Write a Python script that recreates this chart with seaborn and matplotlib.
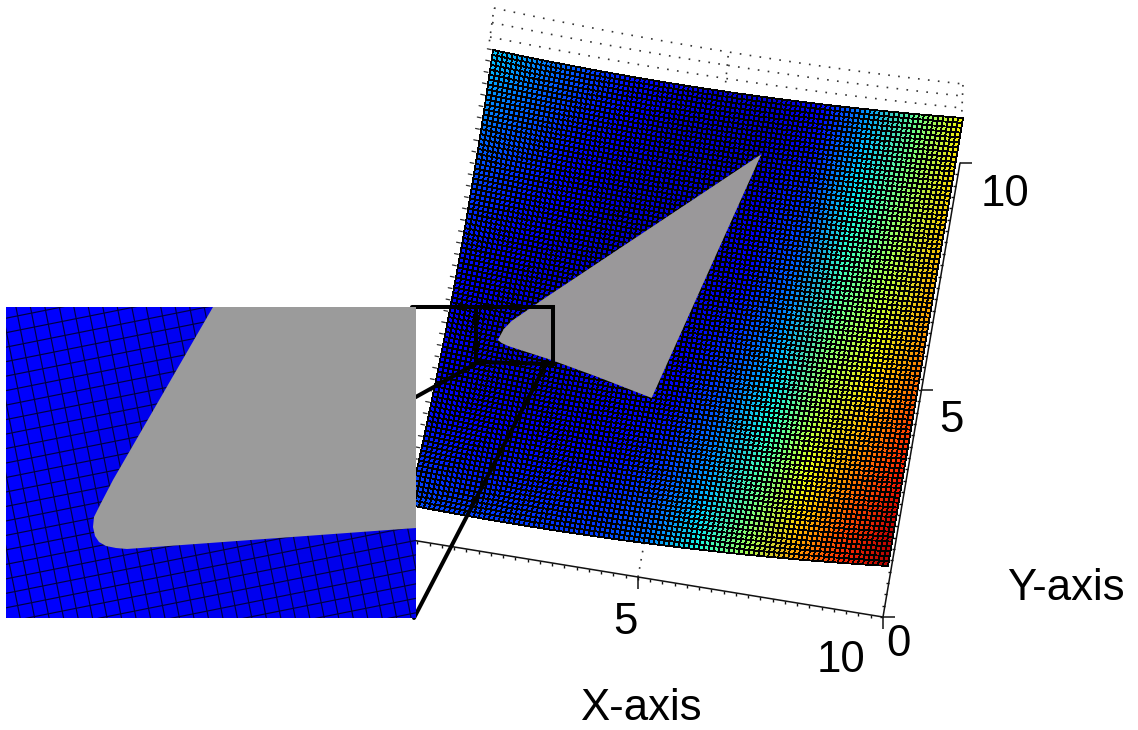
"""
Surface mesh seen from above, with a zoomed inset of the triangle's rounded corner.
"""

import numpy as np
import pandas as pd
import matplotlib
matplotlib.use("Agg")
import matplotlib.pyplot as plt
import seaborn as sns
from matplotlib.patches import Polygon
from matplotlib.transforms import Affine2D, Transform

sns.set_style("white")
plt.rcParams["font.family"] = ["Liberation Sans", "DejaVu Sans"]

# surface colour value (0-1 on the jet scale), one row per y = 0..10, one column per x = 0..10
x_levels = [0, 1, 2, 3, 4, 5, 6, 7, 8, 9, 10]
y_levels = [0, 1, 2, 3, 4, 5, 6, 7, 8, 9, 10]
col_x0 = [.21, .17, .14, .12, .12, .13, .16, .19, .23, .27, .33]
col_x1 = [.19, .15, .12, .10, .09, .10, .12, .15, .18, .22, .26]
col_x2 = [.19, .15, .12, .09, .09, .09, .09, .11, .13, .16, .20]
col_x3 = [.18, .15, .12, .10, .09, .09, .08, .08, .09, .11, .14]
col_x4 = [.19, .16, .13, .11, .10, .09, .08, .08, .08, .08, .10]
col_x5 = [.25, .21, .17, .14, .12, .10, .09, .08, .08, .08, .08]
col_x6 = [.38, .32, .27, .23, .19, .16, .13, .11, .09, .08, .08]
col_x7 = [.55, .49, .43, .38, .33, .28, .24, .20, .17, .14, .12]
col_x8 = [.74, .68, .63, .58, .54, .49, .44, .40, .36, .32, .28]
col_x9 = [.87, .82, .77, .72, .67, .62, .58, .55, .52, .49, .47]
col_x10 = [.96, .93, .89, .85, .80, .76, .73, .71, .69, .67, .65]

# grey triangle on the surface, in x / y units
hole_x = [5.9, 1.915, 1.31, 1.18, 1.1, 1.19, 1.345, 2.27, 3.29, 4.49]
hole_y = [8.75, 4.935, 4.31, 4.11, 3.85, 3.80, 3.76, 3.63, 3.43, 3.15]

# inset colour values, top to bottom
inset_values = [
    [.11, .11, .10, .09, .09],
    [.11, .10, .09, .09, .09],
    [.11, .10, .09, .09, .09],
    [.11, .11, .10, .10, .10],
]
# grey shape in the inset, pixels from the inset's top left corner
inset_gray_x = [207, 107, 94, 88, 87, 89, 93, 100, 110, 121, 410, 410]
inset_gray_y = [0, 173, 198, 210, 220, 229, 235, 239, 241, 242, 221, 0]

x_ticks = [5, 10]
y_ticks = [0, 5, 10]
x_tick_labels = ["5", "10"]
y_tick_labels = ["0", "5", "10"]


class SheetWarp(Transform):
    """Maps x, y in 0-10 onto a bowed four-cornered sheet, in picture pixels."""
    input_dims = 2
    output_dims = 2
    is_separable = False
    has_inverse = False

    def __init__(self, bl, br, tl, tr, bow=0, bow_left=0):
        super().__init__()
        self.bl, self.br, self.tl, self.tr = map(np.array, (bl, br, tl, tr))
        self.bow = bow
        self.bow_left = bow_left

    def transform_non_affine(self, values):
        values = np.asarray(values, dtype=float)
        t = (values[:, 0] / 10)[:, None]
        s = (values[:, 1] / 10)[:, None]
        bottom = self.bl + (self.br - self.bl) * t
        top = self.tl + (self.tr - self.tl) * t
        out = bottom + (top - bottom) * s
        out[:, 1] += self.bow * 4 * (t * (1 - t))[:, 0]
        out[:, 0] += self.bow_left * 4 * (s * (1 - s) * (1 - t))[:, 0]
        return out


fig = plt.figure(figsize=(11.38, 7.30), dpi=100)
ax = fig.add_axes([0, 0, 1, 1])

field = pd.DataFrame(
    np.column_stack([col_x0, col_x1, col_x2, col_x3, col_x4, col_x5,
                     col_x6, col_x7, col_x8, col_x9, col_x10]),
    index=y_levels,
    columns=x_levels,
)

sns.heatmap(field, cmap="jet", vmin=0, vmax=1, cbar=False, shading="gouraud",
            xticklabels=False, yticklabels=False, ax=ax)

surface = SheetWarp((409, 505), (888, 566), (493, 50), (963, 118), bow=8, bow_left=5)
floor = SheetWarp((393, 537), (883, 617), (478, 100), (960, 163))
dots = SheetWarp((490, 37), (962, 108), (494, 8), (963, 84), bow=6)

ax.collections[0].set_transform(surface + ax.transData)

# mesh lines over the colours
along = np.linspace(0, 10, 41)
cols = np.linspace(0, 10, 97)
rows = np.linspace(0, 10, 93)
ax.plot(np.tile(cols, (along.size, 1)), np.tile(along, (cols.size, 1)).T,
        color="black", lw=0.6, antialiased=False,
        transform=surface + ax.transData, zorder=2)
ax.plot(np.tile(along, (rows.size, 1)).T, np.tile(rows, (along.size, 1)),
        color="black", lw=0.6, antialiased=False,
        transform=surface + ax.transData, zorder=2)

ax.add_patch(Polygon(np.column_stack([hole_x, hole_y]), closed=True,
                     facecolor="#9a989a", edgecolor="none",
                     transform=surface + ax.transData, zorder=3))

# short dashes down the left side of the surface
for level in np.arange(0.5, 10.1, 0.25):
    ax.plot([-0.12, -0.04], [level, level], color="#333333", lw=0.9,
            transform=surface + ax.transData, zorder=1)

# dotted back planes
for level in [0, 5, 10]:
    ax.plot(along, np.full(along.size, level), color="#333333", lw=1.2, ls=(0, (1, 5)),
            transform=dots + ax.transData, zorder=1)
for x_grid in [0, 5, 10]:
    ax.plot([x_grid, x_grid], [-1.5, 10], color="#333333", lw=1.2, ls=(0, (1, 4)),
            transform=dots + ax.transData, zorder=1)
ax.plot([5, 5], [0, 0.9], color="#333333", lw=1.2, ls=(0, (1, 4)),
        transform=floor + ax.transData, zorder=1)

# floor axes with their minor ticks
ax.plot([0, 10], [0, 0], color="#111111", lw=1.1, transform=floor + ax.transData, zorder=1)
ax.plot([10, 10], [0, 10], color="#111111", lw=1.1, transform=floor + ax.transData, zorder=1)
minor_ticks = np.arange(0, 10, 0.25)
ax.plot(minor_ticks, np.zeros(minor_ticks.size), ls="none", marker=3, ms=2.2, mew=1.0,
        color="#111111", transform=floor + ax.transData, zorder=1)
ax.plot(np.full(minor_ticks.size, 10), minor_ticks, ls="none", marker=0, ms=2.2, mew=1.0,
        color="#111111", transform=floor + ax.transData, zorder=1)

# major ticks and their labels
label_xy_x = [(625, 622), (841, 660)]
label_xy_y = [(898, 644), (951, 421), (1005, 194)]
for tick, text, (lx, ly) in zip(x_ticks, x_tick_labels, label_xy_x):
    ax.plot([tick], [0], ls="none", marker=3, ms=8.5, mew=1.1, color="#111111",
            transform=floor + ax.transData, zorder=1)
    ax.text(lx, ly, text, fontsize=31.5, ha="center", va="center", color="black")
for tick, text, (lx, ly) in zip(y_ticks, y_tick_labels, label_xy_y):
    ax.plot([10], [tick], ls="none", marker=1, ms=8.5, mew=1.1, color="#111111",
            transform=floor + ax.transData, zorder=1)
    ax.text(lx, ly, text, fontsize=31.5, ha="center", va="center", color="black")

ax.text(641, 708, "X-axis", fontsize=31.5, ha="center", va="center", color="black")
ax.text(1066, 588, "Y-axis", fontsize=31.5, ha="center", va="center", color="black")

# zoom box and the two leader lines
ax.plot([412, 553, 553, 476, 476], [307, 307, 364, 362, 307], color="black", lw=2.9,
        solid_joinstyle="miter", zorder=4)
ax.plot([414, 477], [398, 363], color="black", lw=2.9, zorder=4)
ax.plot([414, 546], [618, 364], color="black", lw=2.9, zorder=4)

ax.set_xlim(0, 1138)
ax.set_ylim(730, 0)
ax.set_axis_off()

# inset, drawn over the left end of the surface
ax_in = fig.add_axes([6 / 1138, 1 - 618 / 730, 410 / 1138, 311 / 730])
sns.heatmap(pd.DataFrame(inset_values), cmap="jet", vmin=0, vmax=1, cbar=False,
            shading="gouraud", xticklabels=False, yticklabels=False, ax=ax_in)
ax_in.set_xlim(0, len(inset_values[0]) - 1)
ax_in.set_ylim(len(inset_values) - 1, 0)

inset_px = Affine2D().scale(1 / 410, -1 / 311).translate(0, 1) + ax_in.transAxes
inset_mesh = Affine2D().rotate_deg(-11.3).translate(-44, 20) + inset_px
for pos in np.arange(-6, 40) * 14.2:
    ax_in.plot([pos, pos], [-300, 800], color="#000040", lw=0.85, transform=inset_mesh, zorder=2)
    ax_in.plot([-300, 800], [pos, pos], color="#000040", lw=0.85, transform=inset_mesh, zorder=2)

ax_in.add_patch(Polygon(np.column_stack([inset_gray_x, inset_gray_y]), closed=True,
                        facecolor="#9b9b9b", edgecolor="none",
                        transform=inset_px, zorder=3))
ax_in.set_axis_off()

fig.savefig("out.png", dpi=100)
plt.close(fig)
